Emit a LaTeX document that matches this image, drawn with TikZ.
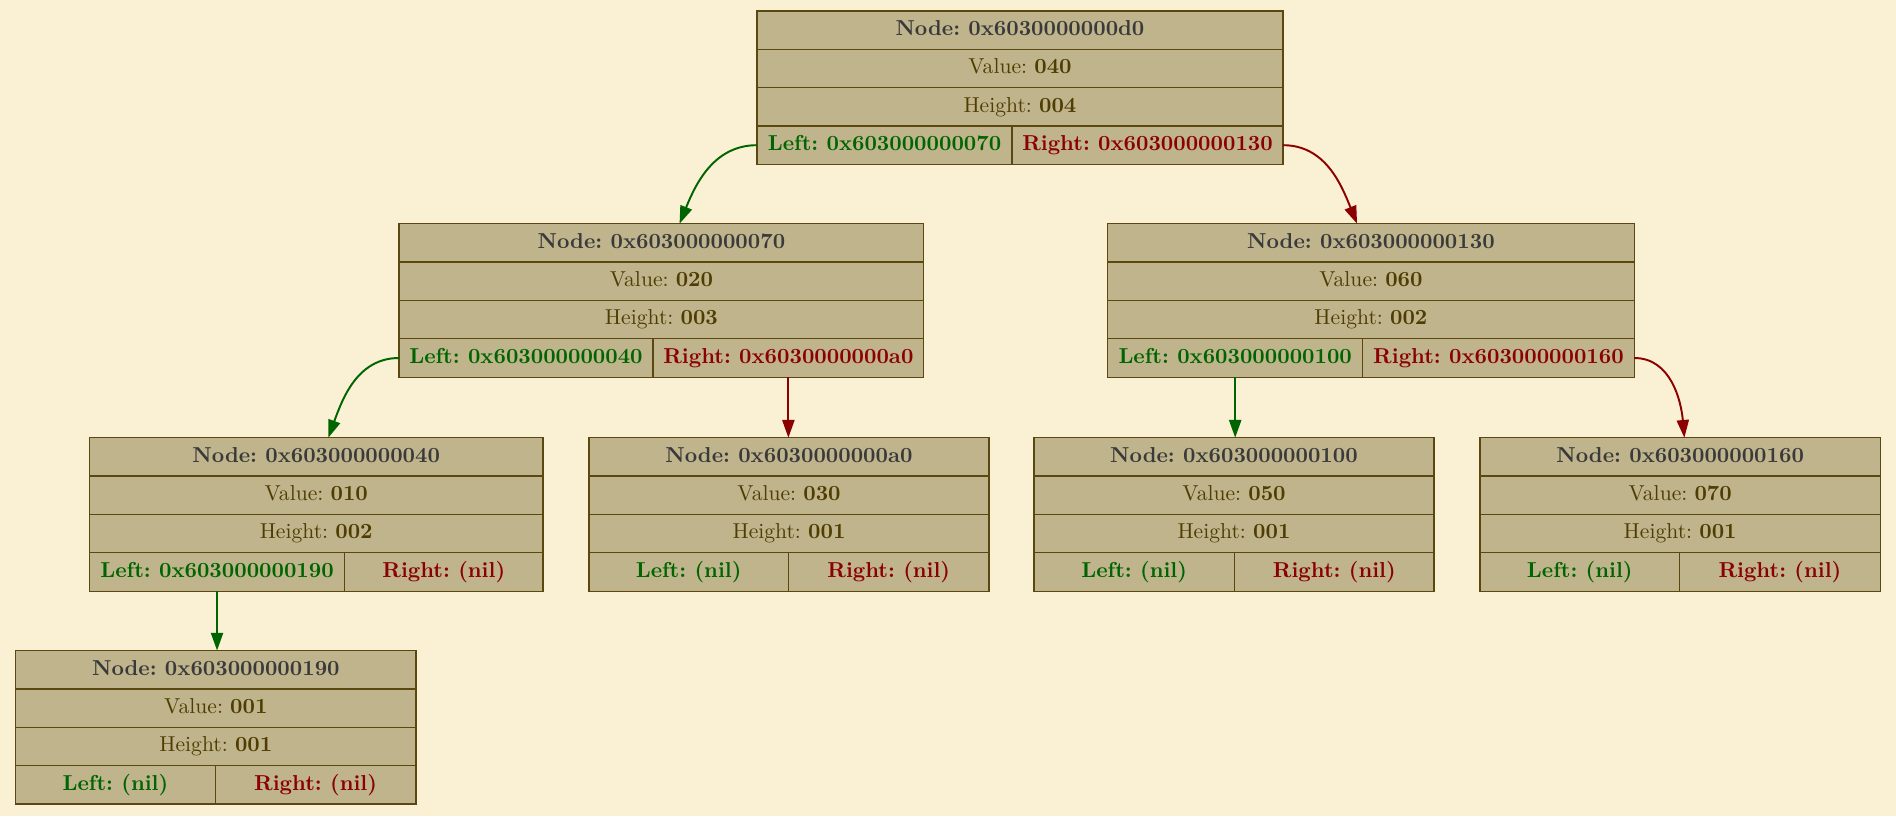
\documentclass[tikz,border=0pt]{standalone}
\usepackage{fontspec}
\setmainfont{lmroman10}[Extension=.otf, UprightFont=*-regular, BoldFont=*-bold]
\usetikzlibrary{arrows.meta}
\definecolor{bgc}{HTML}{FAF0D3}
\definecolor{fillc}{HTML}{BFB48C}
\definecolor{borderc}{HTML}{5A4810}
\definecolor{titlec}{HTML}{3A3A3A}
\definecolor{valc}{HTML}{4F3D02}
\definecolor{leftc}{HTML}{006400}
\definecolor{rightc}{HTML}{8B0000}
\tikzset{
  rowbox/.style={fill=fillc, inner sep=0pt, outer sep=0pt,
    minimum height=23.8pt, text height=9.2pt, text depth=2.6pt, align=center,
    font=\fontsize{13.4}{15}\selectfont\frenchspacing},
  border/.style={draw=borderc, line width=0.8pt},
  leftedge/.style={draw=leftc, line width=1.2pt, -{Triangle[length=11pt,width=7.5pt]}},
  rightedge/.style={draw=rightc, line width=1.2pt, -{Triangle[length=11pt,width=7.5pt]}},
}
\newcommand\bstnode[8]{%
  \def\bstN{#1}\def\bstL{#2}\def\bstD{#3}\def\bstR{#4}%
  \node[rowbox, text=titlec, minimum width={(#4-#2)*0.75pt}, anchor=north west] (#1-title) at (#2,#5) {\bfseries Node: #6};
  \node[rowbox, text=valc, minimum width={(#4-#2)*0.75pt}, anchor=north west] (#1-value) at (#1-title.south west) {Value: \textbf{#7}};
  \node[rowbox, text=valc, minimum width={(#4-#2)*0.75pt}, anchor=north west] (#1-height) at (#1-value.south west) {Height: \textbf{#8}};
}
\newcommand\bstptrs[2]{%
  \node[rowbox, text=leftc, minimum width={(\bstD-\bstL)*0.75pt}, anchor=north west] (\bstN-left) at (\bstN-height.south west) {\bfseries Left: #1};
  \node[rowbox, text=rightc, minimum width={(\bstR-\bstD)*0.75pt}, anchor=north west] (\bstN-right) at (\bstN-left.north east) {\bfseries Right: #2};
  \draw[border] (\bstN-title.north west) rectangle (\bstN-right.south east);
  \draw[border] (\bstN-title.south west) -- (\bstN-title.south east);
  \draw[border] (\bstN-value.south west) -- (\bstN-value.south east);
  \draw[border] (\bstN-height.south west) -- (\bstN-height.south east);
  \draw[border] (\bstN-left.north east) -- (\bstN-left.south east);
}
\begin{document}
\begin{tikzpicture}[x=0.75pt,y=-0.75pt]
  \fill[bgc] (0,0) rectangle (1568,675);
  \useasboundingbox (0,0) rectangle (1568,675);
  % level 0
  \bstnode{n0}{626}{837}{1061}{9}{0x6030000000d0}{040}{004}
  \bstptrs{0x603000000070}{0x603000000130}
  % level 1
  \bstnode{n1}{330}{540}{764}{185}{0x603000000070}{020}{003}
  \bstptrs{0x603000000040}{0x6030000000a0}
  \bstnode{n2}{916}{1127}{1351.5}{185}{0x603000000130}{060}{002}
  \bstptrs{0x603000000100}{0x603000000160}
  % level 2
  \bstnode{n3}{74}{285}{449}{362}{0x603000000040}{010}{002}
  \bstptrs{0x603000000190}{(nil)}
  \bstnode{n4}{487}{652}{818}{362}{0x6030000000a0}{030}{001}
  \bstptrs{(nil)}{(nil)}
  \bstnode{n5}{855}{1021}{1186}{362}{0x603000000100}{050}{001}
  \bstptrs{(nil)}{(nil)}
  \bstnode{n6}{1224}{1389}{1555}{362}{0x603000000160}{070}{001}
  \bstptrs{(nil)}{(nil)}
  % level 3
  \bstnode{n7}{13}{178}{344}{538}{0x603000000190}{001}{001}
  \bstptrs{(nil)}{(nil)}
  % edges
  \draw[leftedge] (n0-left.west) to[out=180,in=68] ([xshift=11.25pt]n1-title.north);
  \draw[rightedge] (n0-right.east) to[out=0,in=112] ([xshift=-8.6pt]n2-title.north);
  \draw[leftedge] (n1-left.west) to[out=180,in=70] ([xshift=7.5pt]n3-title.north);
  \draw[rightedge] (n1-right.south) -- (n1-right.south |- n4-title.north);
  \draw[leftedge] (n2-left.south) -- (n2-left.south |- n5-title.north);
  \draw[rightedge] (n2-right.east) to[out=0,in=95] ([xshift=2.6pt]n6-title.north);
  \draw[leftedge] (n3-left.south) -- (n3-left.south |- n7-title.north);
\end{tikzpicture}
\end{document}
